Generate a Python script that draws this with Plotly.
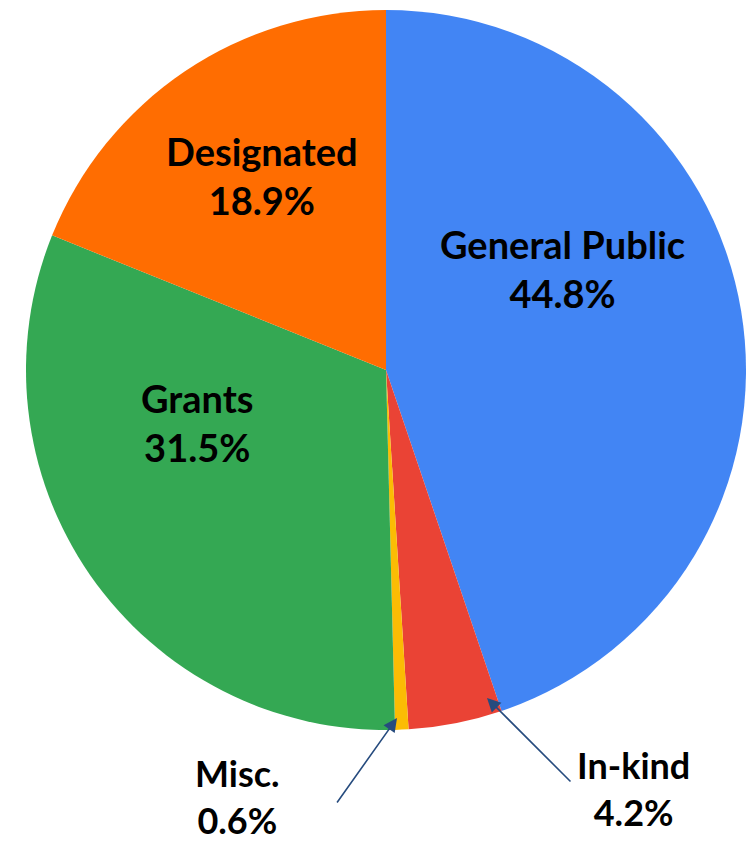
import plotly.graph_objects as go

labels = ["General Public", "In-kind", "Misc.", "Grants", "Designated"]
values = [44.8, 4.2, 0.6, 31.5, 18.9]
colors = ["#4285F4", "#EA4335", "#FBBC04", "#34A853", "#FF6D01"]

W, H = 755, 848
OFF = 8  # page body margin
FONT = "Lato"

cx, cy, r = 386 - OFF, 370 - OFF, 360

fig = go.Figure(go.Pie(
    labels=labels, values=values, sort=False, direction="clockwise", rotation=0,
    marker=dict(colors=colors, line=dict(width=0)),
    textinfo="none", hoverinfo="label+percent",
    domain=dict(x=[(cx - r) / W, (cx + r) / W],
                y=[max(0, (H - cy - r) / H), min(1, (H - cy + r) / H)]),
    showlegend=False,
))

def px(x, y):
    return (x - OFF) / W, 1 - (y - OFF) / H

def fmt(i):
    return f"<b>{labels[i]}<br>{values[i]:.1f}%</b>"

inside = {0: (562, 268), 4: (262, 175), 3: (197, 423)}
outside = {1: (633, 788), 2: (237, 796)}
arrows = {1: ((487, 698), (572, 783)), 2: ((397, 718), (336, 804))}

ann = []
for i, (x, y) in list(inside.items()) + list(outside.items()):
    xp, yp = px(x, y)
    size = 38 if i in inside else 36
    ann.append(dict(x=xp, y=yp, xref="paper", yref="paper", text=fmt(i),
                    showarrow=False,
                    font=dict(family=FONT, size=size, color="black", weight=900),
                    xanchor="center", yanchor="middle"))
for i, (tip, tail) in arrows.items():
    xp, yp = px(*tip)
    ann.append(dict(x=xp, y=yp, xref="paper", yref="paper", text="",
                    showarrow=True, arrowhead=2, arrowsize=1.7, arrowwidth=1.6,
                    arrowcolor="#264B7E", ax=tail[0] - tip[0], ay=tail[1] - tip[1]))

fig.update_layout(
    width=W, height=H, margin=dict(l=0, r=0, t=0, b=0),
    paper_bgcolor="white", plot_bgcolor="white",
    annotations=ann,
)
fig.write_html("out.html")
